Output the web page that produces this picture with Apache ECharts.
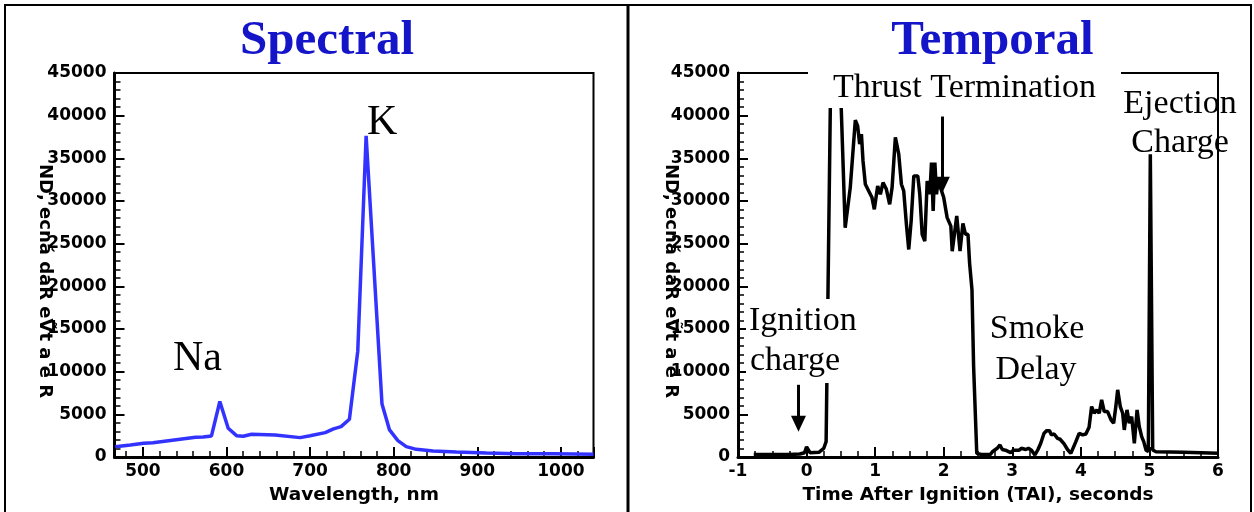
<!DOCTYPE html>
<html><head><meta charset="utf-8">
<script src="https://cdn.jsdelivr.net/npm/echarts@6/dist/echarts.min.js"></script>
<style>html,body{margin:0;padding:0;background:#fff}#c{width:1254px;height:512px}</style>
</head><body><div id="c"></div>
<script>
// ---- Spectral panel data ----
const wavelengthNm = [467, 485, 501, 512, 563, 572, 582, 592, 602, 612, 620, 630, 658, 688, 700, 718, 728, 737, 747, 757, 767, 786, 795, 805, 815, 827, 847, 875, 911, 947, 991, 1039];
const spectralCounts = [1210, 1410, 1610, 1680, 2310, 2350, 2470, 6500, 3370, 2500, 2430, 2660, 2590, 2270, 2500, 2860, 3300, 3560, 4430, 12400, 37640, 6200, 3170, 1920, 1220, 900, 700, 590, 470, 390, 390, 320];

// ---- Temporal panel data ----
const timeSec = [-0.77, -0.5, -0.25, -0.1, -0.03, 0.0, 0.05, 0.18, 0.25, 0.285, 0.39, 0.563, 0.637, 0.711, 0.745, 0.774, 0.80, 0.823, 0.857, 0.906, 0.954, 0.988, 1.037, 1.076, 1.115, 1.164, 1.212, 1.247, 1.295, 1.344, 1.383, 1.417, 1.456, 1.49, 1.525, 1.564, 1.622, 1.651, 1.686, 1.724, 1.759, 1.797, 1.822, 1.846, 1.871, 1.895, 1.92, 1.953, 2.0, 2.05, 2.104, 2.124, 2.19, 2.238, 2.28, 2.318, 2.354, 2.377, 2.412, 2.436, 2.482, 2.55, 2.68, 2.71, 2.78, 2.82, 2.855, 2.9, 2.977, 3.02, 3.1, 3.133, 3.196, 3.235, 3.28, 3.33, 3.375, 3.415, 3.463, 3.503, 3.542, 3.572, 3.61, 3.66, 3.697, 3.756, 3.805, 3.854, 3.927, 3.975, 4.025, 4.073, 4.12, 4.157, 4.195, 4.234, 4.268, 4.303, 4.341, 4.39, 4.44, 4.478, 4.51, 4.537, 4.575, 4.61, 4.633, 4.673, 4.706, 4.741, 4.78, 4.82, 4.852, 4.887, 4.917, 4.95, 4.984, 5.013, 5.048, 5.096, 5.5, 6.0];
const temporalCounts = [300, 300, 300, 350, 500, 1200, 500, 550, 1000, 1800, 69000, 26870, 31570, 39480, 38810, 36660, 37840, 34700, 31960, 31180, 30400, 29020, 31760, 30790, 32160, 31370, 29610, 31570, 37450, 35490, 31960, 31170, 27260, 24320, 27650, 32940, 32940, 30790, 26090, 25300, 32350, 30790, 34510, 28830, 34510, 30790, 32550, 31570, 30400, 28050, 27060, 24120, 28240, 24120, 27380, 26090, 26090, 22760, 19620, 10610, 430, 300, 300, 620, 1020, 1410, 880, 800, 510, 800, 800, 1020, 880, 1020, 800, 235, 880, 1610, 2780, 3090, 3090, 2590, 2700, 2190, 2080, 1530, 880, 430, 1800, 2780, 2590, 2700, 3500, 5910, 5130, 5520, 5130, 6700, 5320, 5320, 4350, 3960, 5910, 7870, 5910, 5130, 3170, 5520, 3960, 4740, 1610, 5520, 3560, 2390, 1800, 820, 620, 35490, 820, 620, 550, 450];

// ---- Axes ----
const countRange = [0, 45000];
const countStep = 5000;
const wavelengthRange = [466, 1039];
const timeRange = [-1, 6];
const timeStep = 1;

// ---- Arrows (data coordinates: [x, yStart, yEnd]) ----
const thrustArrow = [1.98, 39900, 31900];
const ignitionArrow = [-0.118, 8460, 3900];

const spectralData = wavelengthNm.map((x, i) => [x, spectralCounts[i]]);
const temporalData = timeSec.map((x, i) => [x, temporalCounts[i]]);

const plainNum = v => String(v);
const tickFont = {fontFamily: 'DejaVu Sans', fontWeight: 'bold', fontSize: 17, color: '#000', formatter: plainNum};
const nameFont = {fontFamily: 'DejaVu Sans', fontWeight: 'bold', fontSize: 18.5, color: '#000'};

function xAxisCommon(extra) {
  return Object.assign({
    type: 'value', nameLocation: 'middle', nameGap: 29, nameTextStyle: nameFont,
    axisLine: {show: true, onZero: false, lineStyle: {color: '#000', width: 3}},
    axisTick: {show: true, inside: true, length: 10, lineStyle: {color: '#000', width: 2}},
    minorTick: {show: true, length: 6, lineStyle: {color: '#000', width: 1.5}},
    axisLabel: Object.assign({margin: 6}, tickFont),
    splitLine: {show: false}
  }, extra);
}
function yAxisCommon(extra) {
  return Object.assign({
    type: 'value', min: countRange[0], max: countRange[1], interval: countStep,
    axisLine: {show: true, onZero: false, lineStyle: {color: '#000', width: 3}},
    axisTick: {show: true, inside: true, length: 10, lineStyle: {color: '#000', width: 2}},
    minorTick: {show: true, splitNumber: 5, length: 6, lineStyle: {color: '#000', width: 1.5}},
    axisLabel: Object.assign({margin: 8}, tickFont),
    splitLine: {show: false}
  }, extra);
}

const yName = 'ND, ecnǎ daR eṼt a ē R';

const option = {
  animation: false,
  backgroundColor: '#fff',
  grid: [
    {left: 114.5, right: 660.5, top: 73, bottom: 55, show: true, borderColor: '#000', borderWidth: 2, backgroundColor: 'transparent'},
    {left: 738, right: 36, top: 73, bottom: 55, show: true, borderColor: '#000', borderWidth: 2, backgroundColor: 'transparent'}
  ],
  xAxis: [
    xAxisCommon({gridIndex: 0, min: wavelengthRange[0], max: wavelengthRange[1], splitNumber: 5,
      name: 'Wavelength, nm', minorTick: {show: true, splitNumber: 5, length: 6, lineStyle: {color: '#000', width: 1.5}},
      axisLabel: Object.assign({margin: 6, showMinLabel: false, showMaxLabel: false}, tickFont)}),
    xAxisCommon({gridIndex: 1, min: timeRange[0], max: timeRange[1], interval: timeStep,
      name: 'Time After Ignition (TAI), seconds', minorTick: {show: true, splitNumber: 4, length: 6, lineStyle: {color: '#000', width: 1.5}}})
  ],
  yAxis: [
    yAxisCommon({gridIndex: 0}),
    yAxisCommon({gridIndex: 1})
  ],
  series: [
    {type: 'line', xAxisIndex: 0, yAxisIndex: 0, data: spectralData, showSymbol: false, symbol: 'none',
      lineStyle: {color: '#3333ff', width: 3.5}, z: 3},
    {type: 'line', xAxisIndex: 1, yAxisIndex: 1, data: temporalData, showSymbol: false, symbol: 'none',
      lineStyle: {color: '#000', width: 3.5}, z: 3,
      markLine: {silent: true, symbol: ['none', 'triangle'], symbolSize: [15, 16], label: {show: false},
        lineStyle: {color: '#000', width: 3, type: 'solid'}, itemStyle: {color: '#000'}, animation: false,
        data: [
          [{coord: [thrustArrow[0], thrustArrow[1]]}, {coord: [thrustArrow[0], thrustArrow[2]]}],
          [{coord: [ignitionArrow[0], ignitionArrow[1]]}, {coord: [ignitionArrow[0], ignitionArrow[2]]}]
        ]}}
  ],
  graphic: [
    {type: 'rect', z: 0, silent: true, shape: {x: 5, y: 5, width: 1246, height: 540}, style: {fill: 'none', stroke: '#000', lineWidth: 2}},
    {type: 'line', z: 0, silent: true, shape: {x1: 628, y1: 5, x2: 628, y2: 540}, style: {stroke: '#000', lineWidth: 3}},
    // titles
    {type: 'text', z: 100, x: 327, y: 41, style: {text: 'Spectral', font: 'bold 49px "Liberation Serif"', fill: '#1414c8', align: 'center', verticalAlign: 'middle'}},
    {type: 'text', z: 100, x: 992.5, y: 41, style: {text: 'Temporal', font: 'bold 49px "Liberation Serif"', fill: '#1414c8', align: 'center', verticalAlign: 'middle'}},
    // y axis names
    {type: 'text', z: 50, x: 45, y: 281, rotation: -Math.PI / 2, style: {text: yName, font: 'bold 18px "DejaVu Sans"', fill: '#000', align: 'center', verticalAlign: 'middle'}},
    {type: 'text', z: 50, x: 671, y: 281, rotation: -Math.PI / 2, style: {text: yName, font: 'bold 18px "DejaVu Sans"', fill: '#000', align: 'center', verticalAlign: 'middle'}},
    // spectral annotations
    {type: 'text', z: 100, x: 173, y: 359, style: {text: 'Na', font: '42px "Liberation Serif"', fill: '#000', align: 'left', verticalAlign: 'middle'}},
    {type: 'text', z: 100, x: 367, y: 123, style: {text: 'K', font: '42px "Liberation Serif"', fill: '#000', align: 'left', verticalAlign: 'middle'}},
    // temporal annotation boxes
    {type: 'rect', z: 90, silent: true, shape: {x: 808, y: 64, width: 313, height: 44}, style: {fill: '#fff'}},
    {type: 'rect', z: 90, silent: true, shape: {x: 746, y: 299, width: 90, height: 84}, style: {fill: '#fff'}},
    // temporal annotations
    {type: 'text', z: 100, x: 833, y: 88, style: {text: 'Thrust Termination', font: '34px "Liberation Serif"', fill: '#000', align: 'left', verticalAlign: 'middle'}},
    {type: 'text', z: 100, x: 1180, y: 104, style: {text: 'Ejection', font: '34px "Liberation Serif"', fill: '#000', align: 'center', verticalAlign: 'middle'}},
    {type: 'text', z: 100, x: 1180, y: 143, style: {text: 'Charge', font: '34px "Liberation Serif"', fill: '#000', align: 'center', verticalAlign: 'middle'}},
    {type: 'text', z: 100, x: 749, y: 321, style: {text: 'Ignition', font: '34px "Liberation Serif"', fill: '#000', align: 'left', verticalAlign: 'middle'}},
    {type: 'text', z: 100, x: 750, y: 361, style: {text: 'charge', font: '34px "Liberation Serif"', fill: '#000', align: 'left', verticalAlign: 'middle'}},
    {type: 'text', z: 100, x: 1037, y: 329, style: {text: 'Smoke', font: '34px "Liberation Serif"', fill: '#000', align: 'center', verticalAlign: 'middle'}},
    {type: 'text', z: 100, x: 1036, y: 370, style: {text: 'Delay', font: '34px "Liberation Serif"', fill: '#000', align: 'center', verticalAlign: 'middle'}}
  ]
};

const chart = echarts.init(document.getElementById('c'), null, {renderer: 'canvas'});
chart.setOption(option);
</script>
</body></html>
